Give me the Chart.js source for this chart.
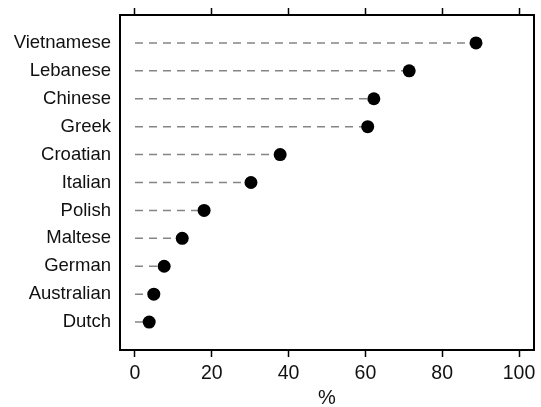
<!DOCTYPE html>
<html>
<head>
<meta charset="utf-8">
<script src="https://cdn.jsdelivr.net/npm/chart.js@4/dist/chart.umd.min.js"></script>
<style>
  html, body { margin: 0; padding: 0; background: #fff; }
  #wrap { width: 541px; height: 407px; }
</style>
</head>
<body>
<div id="wrap"><canvas id="dotChart" width="541" height="407"></canvas></div>
<script>
// categories top to bottom
const groups = ['Vietnamese', 'Lebanese', 'Chinese', 'Greek', 'Croatian', 'Italian',
  'Polish', 'Maltese', 'German', 'Australian', 'Dutch'];
// percent values
const percents = [88.8, 71.4, 62.2, 60.6, 37.8, 30.2, 18.0, 12.3, 7.6, 4.9, 3.7];
const xTicks = [0, 20, 40, 60, 80, 100];

const family = "'Liberation Sans', Arial, sans-serif";
const labelFont = { family: family, size: 18.5 };
const tickFont = { family: family, size: 19.5 };
const textColor = '#111';

// blank slots at both ends give the padding above and below the rows
const yLabels = [''].concat(groups, ['']);

// dashed leader line from 0 to each dot
const leaders = groups.map((g, i) => ({
  type: 'line',
  data: [{ x: 0, y: g }, { x: percents[i], y: g }],
  borderColor: '#858585',
  borderWidth: 1.5,
  borderDash: [8, 6],
  pointRadius: 0,
  fill: false,
  order: 1
}));

const dots = {
  type: 'scatter',
  data: groups.map((g, i) => ({ x: percents[i], y: g })),
  backgroundColor: '#000',
  borderWidth: 0,
  pointRadius: 6.5,
  order: 0
};

// plot frame
const framePlugin = {
  id: 'frame',
  afterDraw(chart) {
    const a = chart.chartArea;
    const ctx = chart.ctx;
    ctx.save();
    ctx.strokeStyle = '#000';
    ctx.lineWidth = 2;
    ctx.strokeRect(a.left, a.top, a.right - a.left, a.bottom - a.top);
    ctx.restore();
  }
};

function fixedTicks(scale) {
  scale.ticks = xTicks.map(v => ({ value: v }));
}

new Chart(document.getElementById('dotChart').getContext('2d'), {
  data: { datasets: leaders.concat([dots]) },
  options: {
    responsive: false,
    animation: false,
    layout: { padding: { left: 0, right: 7, top: 0, bottom: 0 } },
    plugins: { legend: { display: false }, tooltip: { enabled: false } },
    scales: {
      x: {
        type: 'linear',
        position: 'bottom',
        min: -3.9,
        max: 103.9,
        afterBuildTicks: fixedTicks,
        afterFit: s => { s.height = 57; },
        border: { display: false },
        grid: { drawOnChartArea: false, tickLength: 7, tickColor: '#000', tickWidth: 1.5 },
        ticks: { color: textColor, font: tickFont, padding: 5, maxRotation: 0 },
        title: { display: true, text: '%', color: textColor, font: { family: family, size: 20 }, padding: { top: 6, bottom: -3 } }
      },
      xTop: {
        type: 'linear',
        position: 'top',
        min: -3.9,
        max: 103.9,
        afterBuildTicks: fixedTicks,
        afterFit: s => { s.height = 15; },
        border: { display: false },
        grid: { drawOnChartArea: false, tickLength: 7, tickColor: '#000', tickWidth: 1.5 },
        ticks: { display: false }
      },
      y: {
        type: 'category',
        labels: yLabels,
        offset: false,
        afterFit: s => {
          s.width = 120;
          s.paddingTop = 0;
          s.paddingBottom = 0;
        },
        border: { display: false },
        grid: { display: false, drawTicks: false },
        ticks: { color: textColor, font: labelFont, padding: 9, autoSkip: false }
      }
    }
  },
  plugins: [framePlugin]
});
</script>
</body>
</html>
